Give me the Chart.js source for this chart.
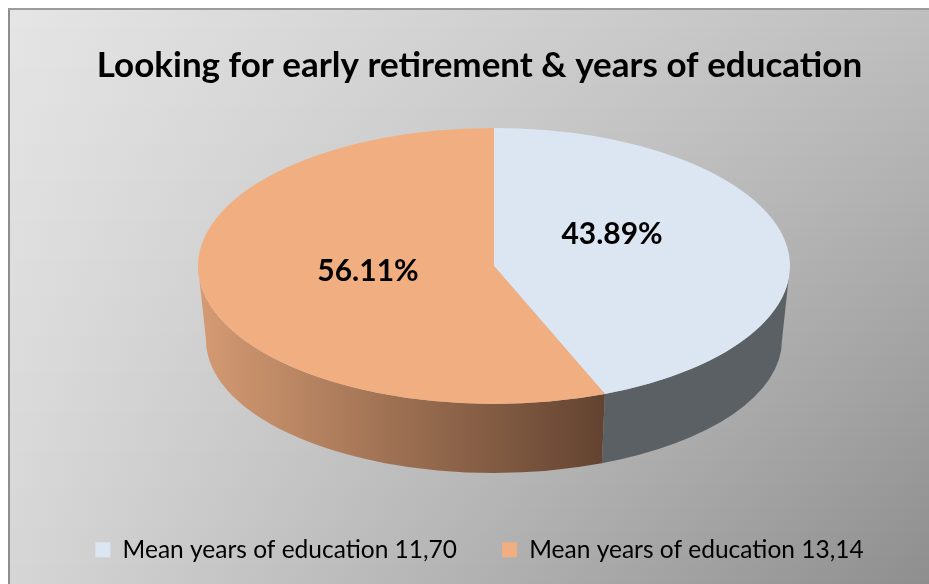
<!DOCTYPE html>
<html>
<head>
<meta charset="utf-8">
<script src="https://cdn.jsdelivr.net/npm/chart.js@4/dist/chart.umd.min.js"></script>
<style>
  html, body { margin: 0; padding: 0; background: #ffffff; }
  #box { position: absolute; left: 0; top: 0; width: 929px; height: 584px; }
</style>
</head>
<body>
<div id="box"><canvas id="chart"></canvas></div>
<script>
// Share of people looking for early retirement, split by mean years of education
const categories = ['Mean years of education 11,70', 'Mean years of education 13,14'];
const shares = [43.89, 56.11];

// Slice colours: top face and the shaded side wall
const faceColors = ['#dce6f2', '#f1ae81'];
const sideColorsLeft = ['#5b6065', '#d59b73'];
const sideColorsRight = ['#5b6065', '#634330'];

// Geometry of the tilted pie (page pixels)
const tiltGeom = {
  cx: 494, cy: 266, rx: 296, ry: 138,
  depth: 74, rxBase: 288, ryBase: 133,
  labelRadiusX: 0.42, labelRadiusY: 0.70, labelShiftX: -4, labelLift: -13
};

function grey(v) { v = Math.round(v); return 'rgb(' + v + ',' + v + ',' + v + ')'; }

// Panel background: soft grey shading from the top-left corner towards the bottom-right
const panelBackground = {
  id: 'panelBackground',
  beforeDraw(chart) {
    const ctx = chart.ctx;
    const W = chart.width, H = chart.height;
    const x0 = 8, y0 = 8;
    ctx.save();
    ctx.fillStyle = '#ffffff';
    ctx.fillRect(0, 0, W, H);
    const tl = 229, tr = 191, bl = 214, br = 142;
    for (let y = y0; y < H; y++) {
      const t = (y - y0) / (H - y0);
      const g = ctx.createLinearGradient(x0, 0, W, 0);
      g.addColorStop(0, grey(tl + (bl - tl) * t));
      g.addColorStop(1, grey(tr + (br - tr) * t));
      ctx.fillStyle = g;
      ctx.fillRect(x0, y, W - x0, 1);
    }
    ctx.fillStyle = '#8e8e8e';
    ctx.fillRect(x0, y0, 2, H - y0);
    ctx.fillStyle = '#9c9c9c';
    ctx.fillRect(x0, y0, W - x0, 2);
    ctx.restore();
  }
};

// Tilts the pie into an ellipse and adds the side wall below the front rim
const tiltedPie = {
  id: 'tiltedPie',
  beforeDatasetsDraw(chart) {
    const ctx = chart.ctx;
    const arcs = chart.getDatasetMeta(0).data;
    const G = tiltGeom;
    ctx.save();
    arcs.forEach((arc, i) => {
      const s = arc.startAngle, e = arc.endAngle;
      for (const k of [0, 2 * Math.PI]) {
        const a0 = Math.max(s, k), a1 = Math.min(e, k + Math.PI);
        if (a1 <= a0) continue;
        const xl = G.cx + G.rx * Math.cos(a1), xr = G.cx + G.rx * Math.cos(a0);
        const grad = ctx.createLinearGradient(Math.min(xl, xr), 0, Math.max(xl, xr), 0);
        grad.addColorStop(0, sideColorsLeft[i]);
        grad.addColorStop(1, sideColorsRight[i]);
        ctx.beginPath();
        ctx.ellipse(G.cx, G.cy, G.rx, G.ry, 0, a0, a1);
        ctx.ellipse(G.cx, G.cy + G.depth, G.rxBase, G.ryBase, 0, a1, a0, true);
        ctx.closePath();
        ctx.fillStyle = grad;
        ctx.fill();
      }
    });
    ctx.restore();
    // top face: the library's arcs, squashed onto the ellipse
    const a = arcs[0];
    ctx.save();
    ctx.translate(G.cx, G.cy);
    ctx.scale(G.rx / a.outerRadius, G.ry / a.outerRadius);
    ctx.translate(-a.x, -a.y);
  },
  afterDatasetsDraw(chart) {
    const ctx = chart.ctx;
    ctx.restore();
    const arcs = chart.getDatasetMeta(0).data;
    const G = tiltGeom;
    ctx.save();
    ctx.font = 'bold 30px Lato';
    ctx.fillStyle = '#000000';
    ctx.textAlign = 'center';
    ctx.textBaseline = 'middle';
    arcs.forEach((arc, i) => {
      const mid = (arc.startAngle + arc.endAngle) / 2;
      const x = G.cx + G.rx * G.labelRadiusX * Math.cos(mid) + G.labelShiftX;
      const y = G.cy + G.ry * G.labelRadiusY * Math.sin(mid) + G.labelLift;
      ctx.fillText(shares[i].toFixed(2) + '%', x, y);
    });
    ctx.restore();
  }
};

new Chart(document.getElementById('chart'), {
  type: 'pie',
  data: {
    labels: categories,
    datasets: [{
      data: shares,
      backgroundColor: faceColors,
      borderWidth: 0,
      clip: false
    }]
  },
  options: {
    responsive: true,
    maintainAspectRatio: false,
    animation: false,
    events: [],
    rotation: 0,
    layout: { padding: { left: 30, right: 0, top: 0, bottom: 12 } },
    plugins: {
      title: {
        display: true,
        text: 'Looking for early retirement & years of education',
        color: '#000000',
        font: { family: 'Lato', size: 35, weight: 'bold' },
        padding: { top: 45, bottom: 20 }
      },
      legend: {
        position: 'bottom',
        labels: {
          color: '#000000',
          font: { family: 'Lato', size: 24.5 },
          boxWidth: 15,
          boxHeight: 15,
          padding: 45
        }
      },
      tooltip: { enabled: false }
    }
  },
  plugins: [panelBackground, tiltedPie]
});
</script>
</body>
</html>
